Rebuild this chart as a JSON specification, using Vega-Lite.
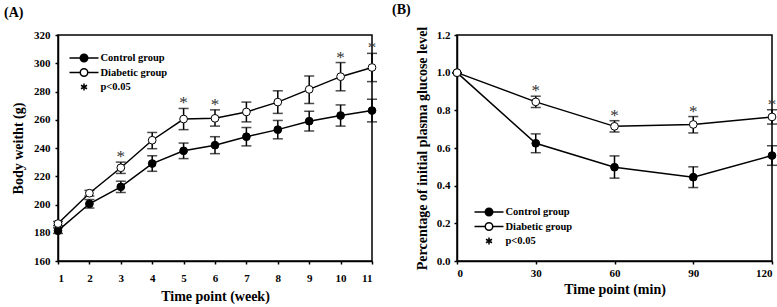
{
  "$schema": "https://vega.github.io/schema/vega-lite/v6.json",
  "background": "white",
  "padding": {"left": 3, "top": 2, "right": 3, "bottom": 2},
  "spacing": 85,
  "bounds": "flush",
  "datasets": {
    "weight": [
      {"week": 1, "group": "Control group", "mean": 181.5, "lo": 179.5, "hi": 183.5, "sig": false},
      {"week": 2, "group": "Control group", "mean": 200.5, "lo": 197.5, "hi": 203.5, "sig": false},
      {"week": 3, "group": "Control group", "mean": 212.5, "lo": 208.5, "hi": 216.5, "sig": false},
      {"week": 4, "group": "Control group", "mean": 229, "lo": 223.5, "hi": 234.5, "sig": false},
      {"week": 5, "group": "Control group", "mean": 238, "lo": 232.5, "hi": 243.5, "sig": false},
      {"week": 6, "group": "Control group", "mean": 242, "lo": 236, "hi": 248, "sig": false},
      {"week": 7, "group": "Control group", "mean": 248, "lo": 241.5, "hi": 254.5, "sig": false},
      {"week": 8, "group": "Control group", "mean": 253, "lo": 246.5, "hi": 259.5, "sig": false},
      {"week": 9, "group": "Control group", "mean": 259, "lo": 252, "hi": 266, "sig": false},
      {"week": 10, "group": "Control group", "mean": 263, "lo": 255.5, "hi": 270.5, "sig": false},
      {"week": 11, "group": "Control group", "mean": 266.5, "lo": 258.5, "hi": 274.5, "sig": false},
      {"week": 1, "group": "Diabetic group", "mean": 186.5, "lo": 185, "hi": 188, "sig": false},
      {"week": 2, "group": "Diabetic group", "mean": 208, "lo": 206, "hi": 210, "sig": false},
      {"week": 3, "group": "Diabetic group", "mean": 226, "lo": 222, "hi": 230, "sig": true},
      {"week": 4, "group": "Diabetic group", "mean": 245.5, "lo": 239.5, "hi": 251, "sig": false},
      {"week": 5, "group": "Diabetic group", "mean": 260.5, "lo": 253, "hi": 268, "sig": true},
      {"week": 6, "group": "Diabetic group", "mean": 261, "lo": 255.5, "hi": 267, "sig": true},
      {"week": 7, "group": "Diabetic group", "mean": 265.5, "lo": 258.5, "hi": 272.5, "sig": false},
      {"week": 8, "group": "Diabetic group", "mean": 272.5, "lo": 264.5, "hi": 280.5, "sig": false},
      {"week": 9, "group": "Diabetic group", "mean": 281.5, "lo": 271.5, "hi": 291, "sig": false},
      {"week": 10, "group": "Diabetic group", "mean": 290.5, "lo": 280.5, "hi": 300.5, "sig": true},
      {"week": 11, "group": "Diabetic group", "mean": 297, "lo": 287, "hi": 307, "sig": true}
    ],
    "glucose": [
      {"min": 0, "group": "Control group", "mean": 1.0, "lo": 1.0, "hi": 1.0, "sig": false},
      {"min": 30, "group": "Control group", "mean": 0.625, "lo": 0.575, "hi": 0.675, "sig": false},
      {"min": 60, "group": "Control group", "mean": 0.498, "lo": 0.44, "hi": 0.558, "sig": false},
      {"min": 90, "group": "Control group", "mean": 0.445, "lo": 0.39, "hi": 0.5, "sig": false},
      {"min": 120, "group": "Control group", "mean": 0.56, "lo": 0.508, "hi": 0.612, "sig": false},
      {"min": 0, "group": "Diabetic group", "mean": 1.0, "lo": 1.0, "hi": 1.0, "sig": false},
      {"min": 30, "group": "Diabetic group", "mean": 0.845, "lo": 0.815, "hi": 0.875, "sig": true},
      {"min": 60, "group": "Diabetic group", "mean": 0.715, "lo": 0.685, "hi": 0.745, "sig": true},
      {"min": 90, "group": "Diabetic group", "mean": 0.725, "lo": 0.68, "hi": 0.767, "sig": true},
      {"min": 120, "group": "Diabetic group", "mean": 0.765, "lo": 0.727, "hi": 0.803, "sig": true}
    ]
  },
  "config": {
    "font": "Liberation Serif",
    "view": {"stroke": "black", "strokeWidth": 1.5},
    "axis": {
      "grid": false,
      "labelOverlap": false,
      "labelBound": false,
      "domainColor": "black", "domainWidth": 1.5,
      "tickColor": "black", "tickWidth": 1.5, "tickSize": 3,
      "labelFont": "Liberation Serif", "labelFontWeight": "bold", "labelFontSize": 11, "labelColor": "black",
      "titleFont": "Liberation Serif", "titleFontWeight": "bold", "titleFontSize": 14, "titleColor": "black"
    },
    "title": {"font": "Liberation Serif", "fontSize": 14, "fontWeight": "bold", "color": "black", "anchor": "start", "frame": "group", "baseline": "alphabetic"}
  },
  "resolve": {"scale": {"fill": "independent"}, "legend": {"fill": "independent"}},
  "hconcat": [
    {
      "title": {"text": "(A)", "dx": -54, "offset": 9},
      "width": 314,
      "height": 226,
      "data": {"name": "weight"},
      "encoding": {
        "x": {"field": "week", "type": "quantitative",
          "scale": {"domain": [1, 11], "nice": false, "zero": false},
          "axis": {"values": [1, 2, 3, 4, 5, 6, 7, 8, 9, 10, 11], "labelOverlap": false, "title": "Time point (week)", "labelPadding": 8, "titlePadding": 6}}
      },
      "layer": [
        {
          "mark": {"type": "errorbar", "ticks": {"size": 10}, "thickness": 1.5, "color": "black"},
          "encoding": {
            "y": {"field": "lo", "type": "quantitative",
              "scale": {"domain": [160, 320], "nice": false, "zero": false},
              "axis": {"values": [160, 180, 200, 220, 240, 260, 280, 300, 320], "labelOverlap": false, "title": "Body weitht (g)", "labelPadding": 5, "titlePadding": 8}},
            "y2": {"field": "hi"},
            "detail": {"field": "group"}
          }
        },
        {
          "mark": {"type": "line", "color": "black", "strokeWidth": 1.5},
          "encoding": {
            "y": {"field": "mean", "type": "quantitative",
              "scale": {"domain": [160, 320], "nice": false, "zero": false},
              "axis": {"values": [160, 180, 200, 220, 240, 260, 280, 300, 320], "labelOverlap": false, "title": "Body weitht (g)", "labelPadding": 5, "titlePadding": 8}},
            "detail": {"field": "group"}
          }
        },
        {
          "mark": {"type": "circle", "size": 60, "stroke": "black", "strokeWidth": 1, "opacity": 1},
          "encoding": {
            "y": {"field": "mean", "type": "quantitative",
              "scale": {"domain": [160, 320], "nice": false, "zero": false},
              "axis": {"values": [160, 180, 200, 220, 240, 260, 280, 300, 320], "labelOverlap": false, "title": "Body weitht (g)", "labelPadding": 5, "titlePadding": 8}},
            "fill": {"field": "group", "type": "nominal",
              "scale": {"domain": ["Control group", "Diabetic group", "p<0.05"], "range": ["black", "white", "black"]},
              "legend": {
                "orient": "none", "legendX": 20, "legendY": 17, "title": null, "padding": 0,
                "symbolType": "M-2.9,0L-0.75,0M0.75,0L2.9,0M0.75,0A0.75,0.75,0,1,1,-0.75,0A0.75,0.75,0,1,1,0.75,0Z",
                "symbolSize": 100, "symbolStrokeColor": "black", "symbolStrokeWidth": 1.5, "symbolOpacity": 1,
                "labelFont": "Liberation Serif", "labelFontWeight": "bold", "labelFontSize": 10.5, "labelColor": "black",
                "labelOffset": 10.5, "rowPadding": 0.5,
                "encode": {"symbols": {"update": {"shape": [
                  {"test": "datum.value === 'p<0.05'", "value": "M0,-0.7L0,0.7M-0.6,-0.35L0.6,0.35M-0.6,0.35L0.6,-0.35"},
                  {"value": "M-2.9,0L-0.75,0M0.75,0L2.9,0M0.75,0A0.75,0.75,0,1,1,-0.75,0A0.75,0.75,0,1,1,0.75,0Z"}
                ]}}}
              }
            }
          }
        },
        {
          "transform": [{"filter": "datum.sig"}],
          "mark": {"type": "text", "text": "*", "fontSize": 17, "font": "Liberation Serif", "color": "#333333", "baseline": "alphabetic", "dy": 0},
          "encoding": {
            "y": {"field": "hi", "type": "quantitative",
              "scale": {"domain": [160, 320], "nice": false, "zero": false},
              "axis": {"values": [160, 180, 200, 220, 240, 260, 280, 300, 320], "labelOverlap": false, "title": "Body weitht (g)", "labelPadding": 5, "titlePadding": 8}}
          }
        }
      ]
    },
    {
      "title": {"text": "(B)", "dx": -65, "offset": 9},
      "width": 315,
      "height": 226,
      "data": {"name": "glucose"},
      "encoding": {
        "x": {"field": "min", "type": "quantitative",
          "scale": {"domain": [0, 120], "nice": false},
          "axis": {"values": [0, 30, 60, 90, 120], "labelOverlap": false, "title": "Time point (min)", "labelPadding": 3, "titlePadding": 4}}
      },
      "layer": [
        {
          "mark": {"type": "errorbar", "ticks": {"size": 10}, "thickness": 1.5, "color": "black"},
          "encoding": {
            "y": {"field": "lo", "type": "quantitative",
              "scale": {"domain": [0, 1.2], "nice": false},
              "axis": {"values": [0, 0.2, 0.4, 0.6, 0.8, 1.0, 1.2], "labelOverlap": false, "format": ".1f", "title": "Percentage of initial plasma glucose level", "labelPadding": 4, "titlePadding": 7}},
            "y2": {"field": "hi"},
            "detail": {"field": "group"}
          }
        },
        {
          "mark": {"type": "line", "color": "black", "strokeWidth": 1.5},
          "encoding": {
            "y": {"field": "mean", "type": "quantitative",
              "scale": {"domain": [0, 1.2], "nice": false},
              "axis": {"values": [0, 0.2, 0.4, 0.6, 0.8, 1.0, 1.2], "labelOverlap": false, "format": ".1f", "title": "Percentage of initial plasma glucose level", "labelPadding": 4, "titlePadding": 7}},
            "detail": {"field": "group"}
          }
        },
        {
          "mark": {"type": "circle", "size": 60, "stroke": "black", "strokeWidth": 1, "opacity": 1},
          "encoding": {
            "y": {"field": "mean", "type": "quantitative",
              "scale": {"domain": [0, 1.2], "nice": false},
              "axis": {"values": [0, 0.2, 0.4, 0.6, 0.8, 1.0, 1.2], "labelOverlap": false, "format": ".1f", "title": "Percentage of initial plasma glucose level", "labelPadding": 4, "titlePadding": 7}},
            "fill": {"field": "group", "type": "nominal",
              "scale": {"domain": ["Control group", "Diabetic group", "p<0.05"], "range": ["black", "white", "black"]},
              "legend": {
                "orient": "none", "legendX": 26, "legendY": 171, "title": null, "padding": 0,
                "symbolType": "M-2.9,0L-0.75,0M0.75,0L2.9,0M0.75,0A0.75,0.75,0,1,1,-0.75,0A0.75,0.75,0,1,1,0.75,0Z",
                "symbolSize": 100, "symbolStrokeColor": "black", "symbolStrokeWidth": 1.5, "symbolOpacity": 1,
                "labelFont": "Liberation Serif", "labelFontWeight": "bold", "labelFontSize": 10.5, "labelColor": "black",
                "labelOffset": 10.5, "rowPadding": 0.5,
                "encode": {"symbols": {"update": {"shape": [
                  {"test": "datum.value === 'p<0.05'", "value": "M0,-0.7L0,0.7M-0.6,-0.35L0.6,0.35M-0.6,0.35L0.6,-0.35"},
                  {"value": "M-2.9,0L-0.75,0M0.75,0L2.9,0M0.75,0A0.75,0.75,0,1,1,-0.75,0A0.75,0.75,0,1,1,0.75,0Z"}
                ]}}}
              }
            }
          }
        },
        {
          "transform": [{"filter": "datum.sig"}],
          "mark": {"type": "text", "text": "*", "fontSize": 17, "font": "Liberation Serif", "color": "#333333", "baseline": "alphabetic", "dy": 0},
          "encoding": {
            "y": {"field": "hi", "type": "quantitative",
              "scale": {"domain": [0, 1.2], "nice": false},
              "axis": {"values": [0, 0.2, 0.4, 0.6, 0.8, 1.0, 1.2], "labelOverlap": false, "format": ".1f", "title": "Percentage of initial plasma glucose level", "labelPadding": 4, "titlePadding": 7}}
          }
        }
      ]
    }
  ]
}
